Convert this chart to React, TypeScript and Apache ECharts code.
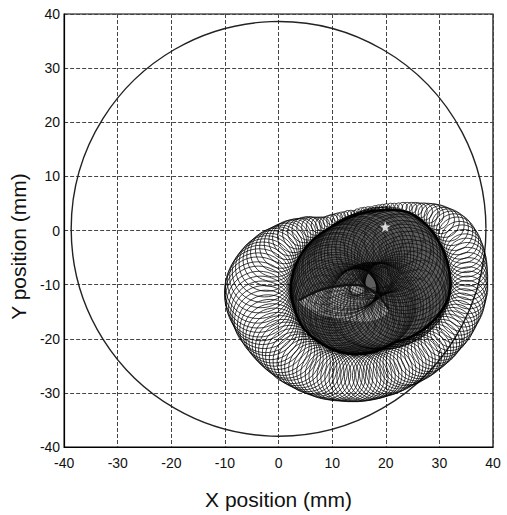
import React, { useEffect, useRef } from "react";
import * as echarts from "echarts";

// Axis ticks
const axisMin = -40;
const axisMax = 40;
const axisStep = 10;

// Outer reference circle: [centerX, centerY, radius] (mm)
const outerCircle = [[0, 0.3, 38.5]];

// Start point (star)
const startPoint = [[19.9, 0.7]];

// Loops of the outer band (set A): centre x, centre y, radius (mm)
const ringCx = [35.5, 35.5, 35.4, 35.2, 34.8, 34.2, 33.3, 32.2, 30.9, 29.5, 27.9, 26.3, 24.8, 23.2, 21.6, 20.1, 18.7, 17.3, 16.0, 14.7, 13.5, 12.3, 11.1, 10.0, 8.8, 7.6, 6.2, 4.9, 3.6, 2.2, 1.1, -0.1, -1.2, -2.2, -3.0, -3.6, -3.9, -3.8, -3.3, -2.7, -2.0, -1.1, -0.2, 0.9, 2.1, 3.3, 4.7, 6.0, 7.4, 8.8, 10.3, 11.7, 13.1, 14.6, 16.0, 17.4, 18.7, 20.1, 21.3, 22.6, 23.8, 25.0, 26.3, 27.5, 28.7, 29.9, 30.9, 32.0, 33.0, 33.8, 34.6, 35.1];
const ringCy = [-11.0, -9.3, -7.6, -5.8, -4.2, -2.5, -1.0, 0.4, 1.5, 2.5, 3.2, 3.7, 4.2, 4.4, 4.4, 4.3, 4.1, 3.8, 3.7, 3.4, 3.1, 2.8, 2.4, 2.0, 1.4, 1.0, 0.6, 0.1, -0.6, -1.4, -2.4, -3.5, -4.7, -6.1, -7.7, -9.3, -11.0, -12.7, -14.4, -16.0, -17.5, -19.0, -20.4, -21.6, -22.6, -23.7, -24.5, -25.3, -25.9, -26.5, -26.8, -27.0, -27.2, -27.2, -27.1, -26.9, -26.6, -26.2, -25.7, -25.0, -24.4, -23.9, -23.3, -22.5, -21.7, -20.7, -19.6, -18.5, -17.2, -15.8, -14.3, -12.7];
const ringR = [3.5, 3.5, 3.55, 3.6, 3.6, 3.55, 3.5, 3.2, 2.8, 2.35, 1.85, 1.4, 1.0, 0.8, 0.65, 0.65, 0.65, 0.6, 0.6, 0.6, 0.65, 0.7, 0.85, 1.0, 1.15, 1.5, 1.9, 2.4, 2.85, 3.3, 3.75, 4.2, 4.7, 5.15, 5.6, 5.95, 6.15, 6.15, 6.0, 5.85, 5.65, 5.5, 5.3, 5.2, 5.1, 5.0, 4.95, 4.85, 4.75, 4.65, 4.6, 4.5, 4.45, 4.45, 4.4, 4.35, 4.3, 4.3, 4.3, 4.3, 4.3, 4.2, 4.1, 4.0, 3.9, 3.85, 3.75, 3.7, 3.6, 3.55, 3.55, 3.5];

// Loops of the outer band (set B, between those of set A)
const ringCxB = [35.5, 35.5, 35.3, 35.0, 34.5, 33.8, 32.8, 31.6, 30.2, 28.7, 27.1, 25.6, 24.0, 22.4, 20.9, 19.4, 18.0, 16.7, 15.4, 14.1, 12.9, 11.7, 10.6, 9.4, 8.2, 6.9, 5.6, 4.3, 2.9, 1.7, 0.5, -0.7, -1.7, -2.6, -3.3, -3.8, -3.9, -3.6, -3.0, -2.4, -1.6, -0.7, 0.4, 1.5, 2.7, 4.0, 5.4, 6.7, 8.1, 9.6, 11.0, 12.4, 13.9, 15.3, 16.7, 18.1, 19.4, 20.7, 22.0, 23.2, 24.4, 25.7, 26.9, 28.1, 29.3, 30.4, 31.5, 32.5, 33.4, 34.2, 34.9, 35.3];
const ringCyB = [-10.2, -8.5, -6.7, -5.0, -3.4, -1.8, -0.3, 1.0, 2.0, 2.9, 3.5, 4.0, 4.3, 4.4, 4.4, 4.2, 4.0, 3.8, 3.6, 3.3, 3.0, 2.6, 2.2, 1.7, 1.2, 0.8, 0.4, -0.3, -1.0, -1.9, -3.0, -4.1, -5.4, -6.9, -8.5, -10.2, -11.9, -13.6, -15.2, -16.8, -18.3, -19.7, -21.0, -22.1, -23.2, -24.1, -24.9, -25.6, -26.2, -26.7, -26.9, -27.1, -27.2, -27.2, -27.0, -26.8, -26.4, -26.0, -25.4, -24.7, -24.2, -23.6, -22.9, -22.1, -21.2, -20.2, -19.1, -17.9, -16.5, -15.1, -13.5, -11.9];
const ringRB = [3.5, 3.5, 3.6, 3.6, 3.6, 3.5, 3.4, 3.0, 2.6, 2.1, 1.6, 1.2, 0.9, 0.7, 0.65, 0.65, 0.6, 0.6, 0.6, 0.6, 0.7, 0.8, 0.9, 1.1, 1.3, 1.7, 2.2, 2.6, 3.1, 3.5, 4.0, 4.5, 4.9, 5.4, 5.8, 6.1, 6.15, 6.1, 5.9, 5.8, 5.6, 5.4, 5.3, 5.2, 5.1, 5.0, 4.9, 4.8, 4.7, 4.6, 4.6, 4.5, 4.45, 4.4, 4.4, 4.3, 4.3, 4.3, 4.3, 4.3, 4.3, 4.2, 4.1, 4.0, 3.9, 3.8, 3.7, 3.7, 3.6, 3.55, 3.5, 3.5];

// Large loops of the dense core
const coreCx = [24.0, 24.1, 24.1, 24.0, 23.9, 23.7, 23.4, 23.0, 22.7, 22.2, 21.6, 20.9, 20.3, 19.5, 18.7, 17.9, 17.2, 16.6, 16.0, 15.5, 15.0, 14.6, 14.2, 13.8, 13.4, 13.0, 12.6, 12.3, 11.9, 11.5, 11.2, 10.9, 10.7, 10.5, 10.4, 10.3, 10.3, 10.3, 10.5, 10.7, 10.8, 11.1, 11.3, 11.7, 12.2, 12.5, 13.0, 13.4, 13.8, 14.1, 14.6, 14.9, 15.3, 15.7, 16.0, 16.3, 16.6, 16.9, 17.1, 17.4, 17.6, 18.0, 18.5, 19.0, 19.6, 20.2, 20.8, 21.4, 22.1, 22.7, 23.2, 23.7];
const coreCy = [-11.0, -10.3, -9.6, -8.9, -8.1, -7.4, -6.8, -6.1, -5.4, -4.9, -4.3, -4.0, -3.6, -3.6, -3.7, -4.0, -4.2, -4.5, -4.7, -4.9, -5.3, -5.6, -5.9, -6.2, -6.5, -6.7, -6.9, -7.3, -7.5, -7.8, -8.3, -8.6, -9.1, -9.5, -10.0, -10.5, -11.0, -11.5, -12.0, -12.4, -12.9, -13.3, -13.7, -14.0, -14.2, -14.5, -14.6, -14.8, -14.9, -15.0, -15.0, -15.0, -14.9, -14.8, -14.7, -14.6, -14.4, -14.3, -14.1, -13.9, -13.8, -13.9, -14.0, -14.0, -14.0, -13.9, -13.8, -13.5, -13.2, -12.8, -12.3, -11.7];
const coreR = [8, 8, 8, 8, 8, 8, 8, 8, 8, 8, 8, 8, 8, 8, 8, 8, 8, 8, 8, 8, 8, 8, 8, 8, 8, 8, 8, 8, 8, 8, 8, 8, 8, 8, 8, 8, 8, 8, 8, 8, 8, 8, 8, 8, 8, 8, 8, 8, 8, 8, 8, 8, 8, 8, 8, 8, 8, 8, 8, 8, 8, 8, 8, 8, 8, 8, 8, 8, 8, 8, 8, 8];

// Medium loops of the dense core
const midCx = [26.5, 26.5, 26.2, 25.5, 24.6, 23.2, 21.5, 19.5, 17.6, 16.0, 14.6, 13.3, 12.2, 11.0, 10.0, 9.1, 8.4, 7.9, 7.8, 8.0, 8.5, 9.2, 10.3, 11.4, 12.5, 13.7, 14.9, 16.0, 17.0, 18.0, 18.9, 20.1, 21.5, 22.9, 24.5, 25.7];
const midCy = [-11.0, -9.1, -7.3, -5.5, -3.8, -2.4, -1.5, -1.3, -1.7, -2.2, -2.8, -3.6, -4.3, -5.0, -5.9, -7.0, -8.2, -9.6, -11.0, -12.4, -13.7, -15.0, -15.8, -16.5, -17.1, -17.3, -17.4, -17.2, -16.9, -16.5, -15.9, -15.9, -15.6, -15.0, -14.1, -12.7];
const midR = [5.5, 5.5, 5.5, 5.5, 5.5, 5.5, 5.5, 5.5, 5.5, 5.5, 5.5, 5.5, 5.5, 5.5, 5.5, 5.5, 5.5, 5.5, 5.5, 5.5, 5.5, 5.5, 5.5, 5.5, 5.5, 5.5, 5.5, 5.5, 5.5, 5.5, 5.5, 5.5, 5.5, 5.5, 5.5, 5.5];

// Boundary of the dense core region (mm)
const coreEdgeX = [32.0, 31.7, 30.3, 27.8, 24.3, 20.0, 16.0, 12.5, 9.4, 6.6, 4.3, 2.8, 2.3, 3.0, 4.4, 6.9, 9.8, 12.9, 16.0, 19.0, 21.6, 24.7, 27.7, 30.4];
const coreEdgeY = [-11.0, -6.8, -2.8, 0.8, 3.3, 3.8, 3.3, 2.1, 0.4, -1.6, -4.3, -7.5, -11.0, -14.5, -17.7, -20.1, -21.8, -22.7, -22.7, -22.0, -20.7, -19.7, -17.8, -14.9];

// Lighter lens inside the core (mm)
const lensX = [3.8, 8.8, 14.9, 18.0, 20.5, 18.6, 14.9, 8.8, 5.5];
const lensY = [-12.9, -10.7, -10.1, -11.5, -14.5, -16.3, -16.8, -15.9, -14.5];

const FONT = "'Liberation Sans', Arial, sans-serif";

function circleRenderer(stroke: string, lineWidth: number) {
  return (params: any, api: any) => {
    const c = api.coord([api.value(0), api.value(1)]);
    const s = api.size([api.value(2), api.value(2)]);
    return {
      type: "circle",
      shape: { cx: c[0], cy: c[1], r: (s[0] + s[1]) / 2 },
      style: { fill: "none", stroke, lineWidth },
    };
  };
}

const coreEdgeData = coreEdgeX.map((x, i) => [x, coreEdgeY[i]]);
const lensData = lensX.map((x, i) => [x, lensY[i]]);

function polygonRenderer(points: number[][], style: any, smooth: number) {
  return (params: any, api: any) => {
    if (params.dataIndex !== 0) return null;
    const pts = points.map((p) => api.coord(p));
    return { type: "polygon", shape: { points: pts, smooth }, style };
  };
}

function lensTopRenderer(params: any, api: any) {
  if (params.dataIndex !== 0) return null;
  const pts = lensData.slice(0, 5).map((p) => api.coord(p));
  return {
    type: "polyline",
    shape: { points: pts, smooth: 0.4 },
    style: { fill: "none", stroke: "#111", lineWidth: 2.2 },
  };
}

const option: any = {
  animation: false,
  backgroundColor: "#fff",
  grid: {
    left: 61,
    right: 14,
    top: 14,
    bottom: 68,
    show: true,
    borderColor: "#000",
    borderWidth: 1.2,
    backgroundColor: "transparent",
  },
  xAxis: {
    type: "value",
    min: axisMin,
    max: axisMax,
    interval: axisStep,
    name: "X position (mm)",
    nameLocation: "middle",
    nameGap: 42,
    nameTextStyle: { fontSize: 21, color: "#111", fontFamily: FONT },
    axisLine: { show: true, onZero: false, lineStyle: { color: "#000", width: 1.2 } },
    axisTick: { show: false },
    axisLabel: { fontSize: 14, color: "#111", margin: 9, fontFamily: FONT },
    splitLine: { show: true, lineStyle: { color: "#444", type: [4, 2], width: 1 } },
  },
  yAxis: {
    type: "value",
    min: axisMin,
    max: axisMax,
    interval: axisStep,
    name: "Y position (mm)",
    nameLocation: "middle",
    nameGap: 24,
    nameTextStyle: { fontSize: 21, color: "#111", fontFamily: FONT, padding: [0, 32, 0, 0] },
    axisLine: { show: true, onZero: false, lineStyle: { color: "#000", width: 1.2 } },
    axisTick: { show: false },
    axisLabel: { fontSize: 14, color: "#111", margin: 4, fontFamily: FONT },
    splitLine: { show: true, lineStyle: { color: "#444", type: [4, 2], width: 1 } },
  },
  series: [
    {
      type: "custom",
      name: "outer circle",
      silent: true,
      renderItem: circleRenderer("#222", 1.4),
      encode: { x: 0, y: 1 },
      data: outerCircle,
      z: 2,
    },
    {
      type: "custom",
      name: "core fill",
      silent: true,
      renderItem: polygonRenderer(coreEdgeData, { fill: "#5e5e5e", stroke: "none" }, 0.35),
      encode: { x: 0, y: 1 },
      data: coreEdgeData,
      z: 3,
    },
    {
      type: "custom",
      name: "lens",
      silent: true,
      renderItem: polygonRenderer(lensData, { fill: "#b4b4b4", stroke: "none" }, 0.4),
      encode: { x: 0, y: 1 },
      data: lensData,
      z: 4,
    },
    {
      type: "custom",
      name: "core loops",
      silent: true,
      renderItem: circleRenderer("#000", 0.6),
      encode: { x: 0, y: 1 },
      data: coreCx.map((x, i) => [x, coreCy[i], coreR[i]]),
      z: 5,
    },
    {
      type: "custom",
      name: "mid loops",
      silent: true,
      renderItem: circleRenderer("#111", 0.5),
      encode: { x: 0, y: 1 },
      data: midCx.map((x, i) => [x, midCy[i], midR[i]]),
      z: 5,
    },
    {
      type: "custom",
      name: "lens edge",
      silent: true,
      renderItem: lensTopRenderer,
      encode: { x: 0, y: 1 },
      data: lensData,
      z: 6,
    },
    {
      type: "custom",
      name: "ring loops A",
      silent: true,
      renderItem: circleRenderer("#000", 0.75),
      encode: { x: 0, y: 1 },
      data: ringCx.map((x, i) => [x, ringCy[i], ringR[i]]),
      z: 7,
    },
    {
      type: "custom",
      name: "ring loops B",
      silent: true,
      renderItem: circleRenderer("#000", 0.75),
      encode: { x: 0, y: 1 },
      data: ringCxB.map((x, i) => [x, ringCyB[i], ringRB[i]]),
      z: 7,
    },
    {
      type: "custom",
      name: "core edge",
      silent: true,
      renderItem: polygonRenderer(coreEdgeData, { fill: "none", stroke: "#000", lineWidth: 2.2 }, 0.35),
      encode: { x: 0, y: 1 },
      data: coreEdgeData,
      z: 8,
    },
    {
      type: "scatter",
      name: "start",
      silent: true,
      symbol: "path://M50,0 L61,35 L98,35 L68,57 L79,91 L50,70 L21,91 L32,57 L2,35 L39,35 Z",
      symbolSize: 11,
      itemStyle: { color: "#fff" },
      data: startPoint,
      z: 10,
    },
  ],
};

export default function App() {
  const ref = useRef<HTMLDivElement>(null);
  useEffect(() => {
    document.body.style.margin = "0";
    const chart = echarts.init(ref.current!, null, { renderer: "svg" });
    chart.setOption(option);
    return () => chart.dispose();
  }, []);
  return <div ref={ref} style={{ width: 507, height: 515 }} />;
}
